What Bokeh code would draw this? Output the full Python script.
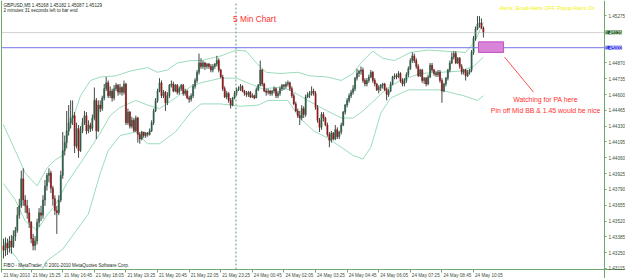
from bokeh.plotting import figure
from bokeh.models import (Range1d, FixedTicker, PrintfTickFormatter, Label, LinearAxis,
                          ColumnDataSource)
from bokeh.embed import file_html
from bokeh.resources import INLINE

# ---------------- data (GBPUSD M5, 21-24 May 2010) ----------------
opens = [
 1.4331,1.4327,1.4333,1.4329,1.4335,1.4330,1.4339,1.4344,1.4357,1.4365,
 1.4388,1.4370,1.4365,1.4359,1.4351,1.4337,1.4331,1.4335,1.4351,1.4359,
 1.4357,1.4370,1.4382,1.4391,1.4393,1.4380,1.4371,1.4361,1.4359,1.4370,
 1.4391,1.4412,1.4419,1.4429,1.4436,1.4440,1.4442,1.4416,1.4431,1.4412,
 1.4429,1.4436,1.4442,1.4429,1.4434,1.4431,1.4440,1.4455,1.4429,1.4451,
 1.4448,1.4457,1.4465,1.4470,1.4459,1.4463,1.4457,1.4465,1.4468,1.4462,
 1.4466,1.4462,1.4469,1.4436,1.4445,1.4433,1.4438,1.4429,1.4440,1.4426,
 1.4422,1.4428,1.4425,1.4427,1.4426,1.4429,1.4436,1.4446,1.4455,1.4463,
 1.4470,1.4459,1.4462,1.4453,1.4459,1.4468,1.4469,1.4463,1.4468,1.4462,
 1.4465,1.4468,1.4461,1.4463,1.4457,1.4456,1.4459,1.4467,1.4472,1.4479,
 1.4487,1.4484,1.4487,1.4484,1.4486,1.4484,1.4481,1.4484,1.4486,1.4489,
 1.4481,1.4475,1.4465,1.4458,1.4461,1.4455,1.4451,
 1.4457,1.4461,1.4464,1.4465,1.4467,1.4463,1.4461,1.4460,1.4462,1.4458,
 1.4459,1.4457,1.4464,1.4468,1.4481,1.4469,1.4463,1.4462,1.4463,1.4461,
 1.4463,1.4465,1.4459,1.4461,1.4465,1.4468,1.4467,1.4469,1.4470,1.4465,
 1.4459,1.4452,1.4446,1.4442,1.4440,1.4448,1.4443,1.4458,1.4460,1.4461,
 1.4463,1.4461,1.4449,1.4438,1.4432,1.4443,1.4440,1.4434,1.4426,1.4421,
 1.4427,1.4422,1.4430,1.4424,1.4428,1.4434,1.4445,1.4451,1.4455,1.4459,
 1.4462,1.4465,1.4474,1.4478,1.4480,1.4481,1.4472,1.4469,1.4472,1.4475,
 1.4479,1.4472,1.4469,1.4464,1.4466,1.4468,1.4469,1.4464,1.4460,1.4463,
 1.4469,1.4475,1.4476,1.4475,1.4478,1.4472,1.4469,1.4472,1.4477,1.4482,
 1.4489,1.4493,1.4489,1.4484,1.4476,1.4481,1.4472,1.4474,1.4469,1.4475,
 1.4485,1.4481,1.4478,1.4477,1.4479,1.4472,1.4463,1.4469,1.4474,1.4481,
 1.4487,1.4492,1.4495,1.4487,1.4491,1.4484,1.4479,1.4481,1.4476,1.4479,
 1.4481,1.4496,1.4508,1.4516,1.4520,1.4521,1.45168]

highs = [
 1.4337,1.4338,1.4337,1.4339,1.4340,1.4344,1.4347,1.4364,1.4371,1.4395,
 1.4397,1.4374,1.4370,1.4363,1.4352,1.4341,1.4339,1.4354,1.4363,1.4365,
 1.4374,1.4387,1.4393,1.4397,1.4395,1.4382,1.4374,1.4365,1.4374,1.4395,
 1.4428,1.4425,1.4446,1.4451,1.4455,1.4455,1.4445,1.4436,1.4434,1.4433,
 1.4440,1.4446,1.4445,1.4438,1.4436,1.4443,1.4466,1.4457,1.4455,1.4455,
 1.4459,1.4469,1.4475,1.4472,1.4467,1.4465,1.4468,1.4470,1.4469,1.4469,
 1.4467,1.4472,1.4470,1.4448,1.4446,1.4441,1.4440,1.4442,1.4441,1.4428,
 1.4429,1.4428,1.4428,1.4428,1.4431,1.4438,1.4448,1.4457,1.4465,1.4474,
 1.4472,1.4464,1.4463,1.4462,1.4469,1.4472,1.4471,1.4469,1.4469,1.4467,
 1.4469,1.4469,1.4465,1.4464,1.4459,1.4461,1.4469,1.4474,1.4481,1.4495,
 1.4491,1.4489,1.4488,1.4487,1.4487,1.4486,1.4486,1.4487,1.4493,1.4491,
 1.4482,1.4477,1.4467,1.4463,1.4462,1.4457,1.4458,
 1.4463,1.4466,1.4467,1.4469,1.4468,1.4464,1.4463,1.4463,1.4463,1.4461,
 1.4460,1.4466,1.4469,1.4489,1.4482,1.4470,1.4465,1.4465,1.4464,1.4464,
 1.4467,1.4466,1.4463,1.4467,1.4469,1.4469,1.4471,1.4472,1.4471,1.4467,
 1.4461,1.4454,1.4448,1.4446,1.4451,1.4450,1.4460,1.4462,1.4463,1.4467,
 1.4465,1.4463,1.4451,1.4440,1.4445,1.4445,1.4441,1.4436,1.4428,1.4429,
 1.4428,1.4434,1.4432,1.4429,1.4436,1.4446,1.4452,1.4457,1.4461,1.4464,
 1.4468,1.4475,1.4482,1.4481,1.4484,1.4483,1.4474,1.4474,1.4477,1.4481,
 1.4480,1.4474,1.4470,1.4468,1.4469,1.4470,1.4470,1.4466,1.4465,1.4471,
 1.4476,1.4478,1.4478,1.4480,1.4479,1.4474,1.4474,1.4479,1.4484,1.4491,
 1.4496,1.4495,1.4491,1.4486,1.4482,1.4482,1.4475,1.4475,1.4477,1.4487,
 1.4487,1.4482,1.4480,1.4481,1.4481,1.4474,1.4470,1.4475,1.4482,1.4489,
 1.4496,1.4497,1.4497,1.4492,1.4492,1.4486,1.4482,1.4482,1.4481,1.4482,
 1.4498,1.4510,1.4518,1.4527,1.4527,1.4525,1.45182]

lows = [
 1.4320,1.4322,1.4323,1.4325,1.4324,1.4329,1.4335,1.4342,1.4354,1.4363,
 1.4365,1.4359,1.4354,1.4346,1.4333,1.4327,1.4327,1.4332,1.4347,1.4352,
 1.4354,1.4365,1.4378,1.4385,1.4376,1.4365,1.4357,1.4341,1.4357,1.4368,
 1.4388,1.4408,1.4414,1.4425,1.4431,1.4434,1.4410,1.4414,1.4406,1.4411,
 1.4427,1.4434,1.4426,1.4427,1.4428,1.4429,1.4438,1.4422,1.4428,1.4445,
 1.4446,1.4455,1.4463,1.4457,1.4457,1.4454,1.4455,1.4463,1.4459,1.4460,
 1.4459,1.4460,1.4434,1.4434,1.4431,1.4431,1.4428,1.4428,1.4419,1.4418,
 1.4421,1.4423,1.4423,1.4424,1.4425,1.4428,1.4434,1.4445,1.4453,1.4462,
 1.4457,1.4457,1.4446,1.4451,1.4457,1.4466,1.4462,1.4462,1.4460,1.4460,
 1.4463,1.4459,1.4459,1.4456,1.4453,1.4454,1.4457,1.4465,1.4470,1.4477,
 1.4482,1.4482,1.4481,1.4482,1.4482,1.4479,1.4479,1.4482,1.4484,1.4479,
 1.4474,1.4463,1.4457,1.4456,1.4453,1.4448,1.4450,
 1.4456,1.4459,1.4463,1.4463,1.4462,1.4459,1.4458,1.4458,1.4457,1.4457,
 1.4456,1.4457,1.4463,1.4467,1.4467,1.4462,1.4459,1.4460,1.4459,1.4459,
 1.4461,1.4457,1.4457,1.4459,1.4463,1.4464,1.4465,1.4467,1.4463,1.4457,
 1.4451,1.4445,1.4440,1.4434,1.4438,1.4440,1.4441,1.4457,1.4457,1.4459,
 1.4459,1.4447,1.4436,1.4428,1.4430,1.4437,1.4433,1.4424,1.4415,1.4419,
 1.4421,1.4421,1.4422,1.4422,1.4426,1.4433,1.4443,1.4449,1.4453,1.4457,
 1.4460,1.4463,1.4472,1.4475,1.4477,1.4470,1.4467,1.4467,1.4470,1.4474,
 1.4470,1.4467,1.4463,1.4461,1.4463,1.4465,1.4463,1.4455,1.4458,1.4462,
 1.4468,1.4473,1.4473,1.4474,1.4470,1.4467,1.4467,1.4470,1.4475,1.4481,
 1.4487,1.4487,1.4482,1.4475,1.4475,1.4470,1.4469,1.4467,1.4468,1.4474,
 1.4479,1.4476,1.4475,1.4475,1.4470,1.4453,1.4462,1.4467,1.4472,1.4479,
 1.4486,1.4490,1.4486,1.4486,1.4482,1.4477,1.4477,1.4472,1.4475,1.4477,
 1.4479,1.4494,1.4506,1.4515,1.4517,1.4516,1.45087]

closes = [
 1.4327,1.4333,1.4329,1.4335,1.4330,1.4339,1.4344,1.4357,1.4365,1.4388,
 1.4370,1.4365,1.4359,1.4351,1.4337,1.4331,1.4335,1.4351,1.4359,1.4357,
 1.4370,1.4382,1.4391,1.4393,1.4380,1.4371,1.4361,1.4359,1.4370,1.4391,
 1.4412,1.4419,1.4429,1.4436,1.4440,1.4442,1.4416,1.4431,1.4412,1.4429,
 1.4436,1.4442,1.4429,1.4434,1.4431,1.4440,1.4455,1.4429,1.4451,1.4448,
 1.4457,1.4465,1.4470,1.4459,1.4463,1.4457,1.4465,1.4468,1.4462,1.4466,
 1.4462,1.4469,1.4436,1.4445,1.4433,1.4438,1.4429,1.4440,1.4426,1.4422,
 1.4428,1.4425,1.4427,1.4426,1.4429,1.4436,1.4446,1.4455,1.4463,1.4470,
 1.4459,1.4462,1.4453,1.4459,1.4468,1.4469,1.4463,1.4468,1.4462,1.4465,
 1.4468,1.4461,1.4463,1.4457,1.4456,1.4459,1.4467,1.4472,1.4479,1.4487,
 1.4484,1.4487,1.4484,1.4486,1.4484,1.4481,1.4484,1.4486,1.4489,1.4481,
 1.4475,1.4465,1.4458,1.4461,1.4455,1.4451,1.4457,
 1.4461,1.4464,1.4465,1.4467,1.4463,1.4461,1.4460,1.4462,1.4458,1.4459,
 1.4457,1.4464,1.4468,1.4481,1.4469,1.4463,1.4462,1.4463,1.4461,1.4463,
 1.4465,1.4459,1.4461,1.4465,1.4468,1.4467,1.4469,1.4470,1.4465,1.4459,
 1.4452,1.4446,1.4442,1.4440,1.4448,1.4443,1.4458,1.4460,1.4461,1.4463,
 1.4461,1.4449,1.4438,1.4432,1.4443,1.4440,1.4434,1.4426,1.4421,1.4427,
 1.4422,1.4430,1.4424,1.4428,1.4434,1.4445,1.4451,1.4455,1.4459,1.4462,
 1.4465,1.4474,1.4478,1.4480,1.4481,1.4472,1.4469,1.4472,1.4475,1.4479,
 1.4472,1.4469,1.4464,1.4466,1.4468,1.4469,1.4464,1.4460,1.4463,1.4469,
 1.4475,1.4476,1.4475,1.4478,1.4472,1.4469,1.4472,1.4477,1.4482,1.4489,
 1.4493,1.4489,1.4484,1.4476,1.4481,1.4472,1.4474,1.4469,1.4475,1.4485,
 1.4481,1.4478,1.4477,1.4479,1.4472,1.4463,1.4469,1.4474,1.4481,1.4487,
 1.4492,1.4495,1.4487,1.4491,1.4484,1.4479,1.4481,1.4476,1.4479,1.4481,
 1.4496,1.4508,1.4516,1.4520,1.4521,1.4517,1.45129]

# Bollinger bands (bar index, price)
upper_idx = [0,6,11,17,22,26,30,34,39,44,49,57,64,73,78,83,88,95,100,110,
             118,123,128,133,140,149,155,164,171,177,182,187,192,198,206,215,224,234,239,243]
upper_val = [1.4434,1.4412,1.4393,1.4382,1.4397,1.4404,1.4408,1.4434,1.4459,1.4472,
             1.4475,1.4476,1.4480,1.4483,1.4479,1.4481,1.4487,1.4489,1.4489,1.4493,
             1.4498,1.4497,1.4487,1.4479,1.4478,1.4479,1.4476,1.4475,1.4472,1.4478,
             1.4489,1.4497,1.4491,1.4489,1.4496,1.4498,1.4497,1.4496,1.4506,1.4522]
mid_idx = [0,6,11,17,22,26,32,40,49,54,59,67,73,79,87,95,100,110,118,125,
           131,139,145,154,164,171,177,182,189,194,201,211,221,231,238,243]
mid_val = [1.4384,1.4370,1.4352,1.4344,1.4357,1.4365,1.4384,1.4404,1.4427,1.4442,
           1.4449,1.4455,1.4451,1.4448,1.4457,1.4467,1.4470,1.4474,1.4474,1.4469,
           1.4465,1.4466,1.4464,1.4455,1.4446,1.4440,1.4440,1.4446,1.4457,1.4465,
           1.4472,1.4478,1.4479,1.4480,1.4484,1.4492]
lower_idx = [0,6,11,17,22,30,43,49,53,59,67,73,79,87,95,100,110,120,129,134,
             144,150,157,164,171,177,182,186,191,196,205,221,233,240,243]
lower_val = [1.4335,1.4322,1.4310,1.4303,1.4318,1.4328,1.4358,1.4393,1.4412,1.4425,
             1.4428,1.4418,1.4418,1.4428,1.4445,1.4452,1.4452,1.4450,1.4451,1.4455,
             1.4455,1.4440,1.4429,1.4423,1.4415,1.4408,1.4405,1.4415,1.4444,1.4457,
             1.4464,1.4464,1.4459,1.4455,1.4459]

# axis ticks (bar index of each time label)
x_tick_pos = [-0.8, 14, 30, 46, 62, 78, 94, 110, 126, 142, 158, 174, 190, 206, 222, 238]
x_tick_labels = ["21 May 2010", "21 May 15:25", "21 May 16:45", "21 May 18:05", "21 May 19:25",
                 "21 May 20:45", "21 May 22:05", "21 May 23:25", "24 May 00:45", "24 May 02:05",
                 "24 May 03:25", "24 May 04:45", "24 May 06:05", "24 May 07:25", "24 May 08:45",
                 "24 May 10:05"]
y_tick_vals = [1.45275, 1.44870, 1.44735, 1.44600, 1.44465, 1.44330, 1.44195, 1.44060,
               1.43925, 1.43790, 1.43655, 1.43520, 1.43385, 1.43250, 1.43115]

bid_price = 1.45129
level_price = 1.45000
day_break = 117.7
zone = dict(left=240.5, right=253.2, top=1.4505, bottom=1.4496)
note_line = dict(x0=253.7, y0=1.4492, x1=268.4, y1=1.4462)

# ---------------- layout (chart window inside the canvas) ----------------
W, H = 625, 278
PX_PER_BAR = 1.975
X0, X1 = -1.519, 314.94            # canvas edges in bar units
Y0, Y1 = 1.430293, 1.454031        # canvas edges in price
CH_L, CH_R = -1.0127, 304.30       # chart window (left border / price scale)
CH_B, CH_T = 1.431059, 1.453946    # chart window (time scale / top)

FONT = "Liberation Sans"
GREEN = "#6fa86f"
TXT = "#3c4f3c"
FS = "4.6px"

p = figure(width=W, height=H, output_backend="svg", toolbar_location=None,
           x_range=Range1d(X0, X1), y_range=Range1d(Y0, Y1),
           x_axis_location=None, y_axis_location=None,
           min_border_left=0, min_border_right=0, min_border_top=0, min_border_bottom=0)
p.background_fill_color = "white"
p.border_fill_color = "white"
p.outline_line_color = None
p.grid.visible = False

# bands
band_col = "#9adcbc"
p.line(upper_idx, upper_val, line_color=band_col, line_width=1)
p.line(mid_idx, mid_val, line_color=band_col, line_width=1)
p.line(lower_idx, lower_val, line_color=band_col, line_width=1)

# candles
idx = list(range(len(closes)))
src = ColumnDataSource(dict(
    x=idx, o=opens, h=highs, l=lows, c=closes,
    top=[max(a, b) for a, b in zip(opens, closes)],
    bot=[min(a, b) for a, b in zip(opens, closes)],
    col=["#2f6049" if c >= o else "#8c1a1a" for o, c in zip(opens, closes)]))
p.segment(x0="x", y0="h", x1="x", y1="l", source=src, line_color="#404a44", line_width=1)
p.vbar(x="x", width=0.6, top="top", bottom="bot", source=src, fill_color="col",
       line_color="col", line_width=0.5)

# chart objects
p.segment(x0=[day_break], y0=[CH_B], x1=[day_break], y1=[CH_T], line_color="#5f9a6a",
          line_dash="2 2", line_width=1)
p.segment(x0=[CH_L], y0=[bid_price], x1=[CH_R], y1=[bid_price], line_color="#a0a0a0",
          line_dash="1 1", line_width=1)
p.segment(x0=[CH_L], y0=[level_price], x1=[CH_R], y1=[level_price], line_color="#7474ec",
          line_width=1)
p.quad(left=[zone["left"]], right=[zone["right"]], top=[zone["top"]], bottom=[zone["bottom"]],
       fill_color="#d884d8", line_color="#c050c0", line_width=1)
p.segment(x0=[note_line["x0"]], y0=[note_line["y0"]], x1=[note_line["x1"]], y1=[note_line["y1"]],
          line_color="#ff5050", line_width=1)

# white margins outside the chart window (scale areas)
p.quad(left=[X0, CH_R, X0], right=[X1, X1, CH_L], top=[CH_B, Y1, Y1], bottom=[Y0, Y0, Y0],
       fill_color="white", line_color=None)
p.segment(x0=[CH_L], y0=[CH_B], x1=[CH_L], y1=[Y1], line_color=GREEN, line_width=1)

# price scale (right)
yax = LinearAxis(fixed_location=CH_R, ticker=FixedTicker(ticks=y_tick_vals),
                 formatter=PrintfTickFormatter(format="%.5f"))
yax.major_label_text_font = FONT
yax.major_label_text_font_size = FS
yax.major_label_text_color = TXT
yax.major_label_standoff = 2
yax.major_tick_out = 2
yax.major_tick_in = 0
yax.minor_tick_line_color = None
yax.axis_line_color = GREEN
yax.major_tick_line_color = GREEN
p.add_layout(yax, "right")

# time scale (bottom): labels start just right of each tick
ADV = {" ": .278, ":": .278, "M": .833, "a": .556, "y": .5}
def label_w(s):
    return sum(ADV.get(ch, .556) for ch in s) * 4.6
centers = [t + (1.5 + label_w(s) / 2) / PX_PER_BAR for t, s in zip(x_tick_pos, x_tick_labels)]
xax = LinearAxis(fixed_location=CH_B, ticker=FixedTicker(ticks=centers, minor_ticks=x_tick_pos))
xax.major_label_overrides = {c: s for c, s in zip(centers, x_tick_labels)}
xax.major_label_text_font = FONT
xax.major_label_text_font_size = FS
xax.major_label_text_color = TXT
xax.major_label_standoff = 0
xax.major_tick_out = 0
xax.major_tick_in = 0
xax.minor_tick_out = 3
xax.minor_tick_in = 0
xax.minor_tick_line_color = GREEN
xax.major_tick_line_color = None
xax.axis_line_color = GREEN
p.add_layout(xax, "below")

# texts
def lab(text, x, y, size, color, align="left"):
    p.add_layout(Label(x=x, y=y, x_units="screen", y_units="screen", text=text,
                       text_font=FONT, text_font_size=size, text_color=color,
                       text_align=align, text_baseline="middle"))

lab("GBPUSD,M5  1.45168 1.45182 1.45087 1.45129", 3, 273, "4.6px", "#203020")
lab("2 minutes 31 seconds left to bar end", 3, 268, "4.6px", "#203020")
lab("5 Min Chart", 254, 260, "8.3px", "#ff3030", align="center")
lab("Alerts:  Email Alerts OFF,  Popup Alerts On", 499, 271, "5.2px", "#f2f200")
lab("Watching for PA here", 545, 179, "6.9px", "#ff3030", align="center")
lab("Pin off Mid BB & 1.45 would be nice", 545, 168, "6.9px", "#ff3030", align="center")
lab("FIBO - MetaTrader, \u00a9 2001-2010 MetaQuotes Software Corp.", 3, 13, "4.6px", "#203020")

# highlighted prices on the price scale
for price, bg in ((bid_price, "#1f5a1f"), (level_price, "#2b2bea")):
    p.add_layout(Label(x=605, y=price, x_units="screen", y_units="data", text="%.5f" % price,
                       text_font=FONT, text_font_size=FS, text_color="white",
                       text_baseline="middle", background_fill_color=bg))

open("out.html", "w").write(file_html(p, INLINE))
